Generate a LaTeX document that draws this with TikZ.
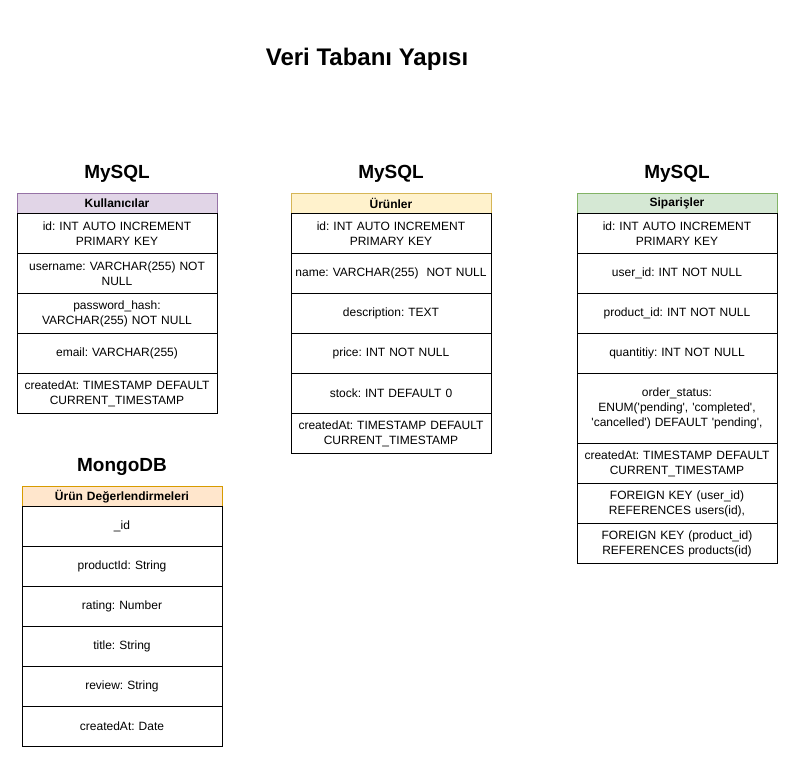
\documentclass[tikz,border=0pt]{standalone}
\usepackage{fontspec}
\setmainfont{Liberation Sans}
\frenchspacing
\hyphenpenalty=10000\relax
\exhyphenpenalty=10000\relax
\newcommand\sq{\textquotesingle}
\definecolor{purpfill}{HTML}{E1D5E7}\definecolor{purpline}{HTML}{9673A6}
\definecolor{yelfill}{HTML}{FFF2CC}\definecolor{yelline}{HTML}{D6B656}
\definecolor{grnfill}{HTML}{D5E8D4}\definecolor{grnline}{HTML}{82B366}
\definecolor{orgfill}{HTML}{FFE6CC}\definecolor{orgline}{HTML}{D79B00}
\tikzset{
  cell/.style={draw, fill=white, line width=1pt, minimum width=200pt, text width=196pt,
    align=center, inner sep=0pt, font=\fontsize{12}{15}\selectfont,
    anchor=north, minimum height=40pt},
  hdr/.style={cell, minimum height=20pt, font=\bfseries\fontsize{12}{14}\selectfont},
  dbtitle/.style={font=\bfseries\fontsize{19}{22}\selectfont},
}
\begin{document}
\begin{tikzpicture}[x=1pt,y=-1pt]
\useasboundingbox[fill=white] (0,0) rectangle (792,782);
\node[font=\bfseries\fontsize{24}{28}\selectfont] (title) at (367,59) {Veri Tabanı Yapısı};
% Kullanicilar
\node[dbtitle] (t1) at (117,174) {MySQL};
\node[hdr, fill=purpfill, draw=purpline] (k0) at (117,193) {Kullanıcılar};
\node[cell] (k1) at (117,213) {id: INT AUTO INCREMENT\\PRIMARY KEY};
\node[cell] (k2) at (117,253) {username: VARCHAR(255) NOT\\NULL};
\node[cell] (k3) at (117,293) {password\_hash:\\VARCHAR(255) NOT NULL};
\node[cell] (k4) at (117,333) {email: VARCHAR(255)};
\node[cell] (k5) at (117,373) {createdAt: TIMESTAMP DEFAULT\\CURRENT\_TIMESTAMP};
% Urunler
\node[dbtitle] (t2) at (391,174) {MySQL};
\node[hdr, fill=yelfill, draw=yelline] (u0) at (391,193) {Ürünler};
\node[cell] (u1) at (391,213) {id: INT AUTO INCREMENT\\PRIMARY KEY};
\node[cell] (u2) at (391,253) {name: VARCHAR(255)\ \ NOT NULL};
\node[cell] (u3) at (391,293) {description: TEXT};
\node[cell] (u4) at (391,333) {price: INT NOT NULL};
\node[cell] (u5) at (391,373) {stock: INT DEFAULT 0};
\node[cell] (u6) at (391,413) {createdAt: TIMESTAMP DEFAULT\\CURRENT\_TIMESTAMP};
% Siparisler
\node[dbtitle] (t3) at (677,174) {MySQL};
\node[hdr, fill=grnfill, draw=grnline] (s0) at (677,193) {Siparişler};
\node[cell] (s1) at (677,213) {id: INT AUTO INCREMENT\\PRIMARY KEY};
\node[cell] (s2) at (677,253) {user\_id: INT NOT NULL};
\node[cell] (s3) at (677,293) {product\_id: INT NOT NULL};
\node[cell] (s4) at (677,333) {quantitiy: INT NOT NULL};
\node[cell, minimum height=70pt] (s5) at (677,373) {order\_status:\\ENUM(\sq pending\sq, \sq completed\sq,\\\sq cancelled\sq) DEFAULT \sq pending\sq,};
\node[cell] (s6) at (677,443) {createdAt: TIMESTAMP DEFAULT\\CURRENT\_TIMESTAMP};
\node[cell] (s7) at (677,483) {FOREIGN KEY (user\_id)\\REFERENCES users(id),};
\node[cell] (s8) at (677,523) {FOREIGN KEY (product\_id)\\REFERENCES products(id)};
% MongoDB
\node[dbtitle] (t4) at (122,467) {MongoDB};
\node[hdr, fill=orgfill, draw=orgline] (m0) at (122,486) {Ürün Değerlendirmeleri};
\node[cell] (m1) at (122,506) {\_id};
\node[cell] (m2) at (122,546) {productId: String};
\node[cell] (m3) at (122,586) {rating: Number};
\node[cell] (m4) at (122,626) {title: String};
\node[cell] (m5) at (122,666) {review: String};
\node[cell] (m6) at (122,706) {createdAt: Date};
\end{tikzpicture}
\end{document}
